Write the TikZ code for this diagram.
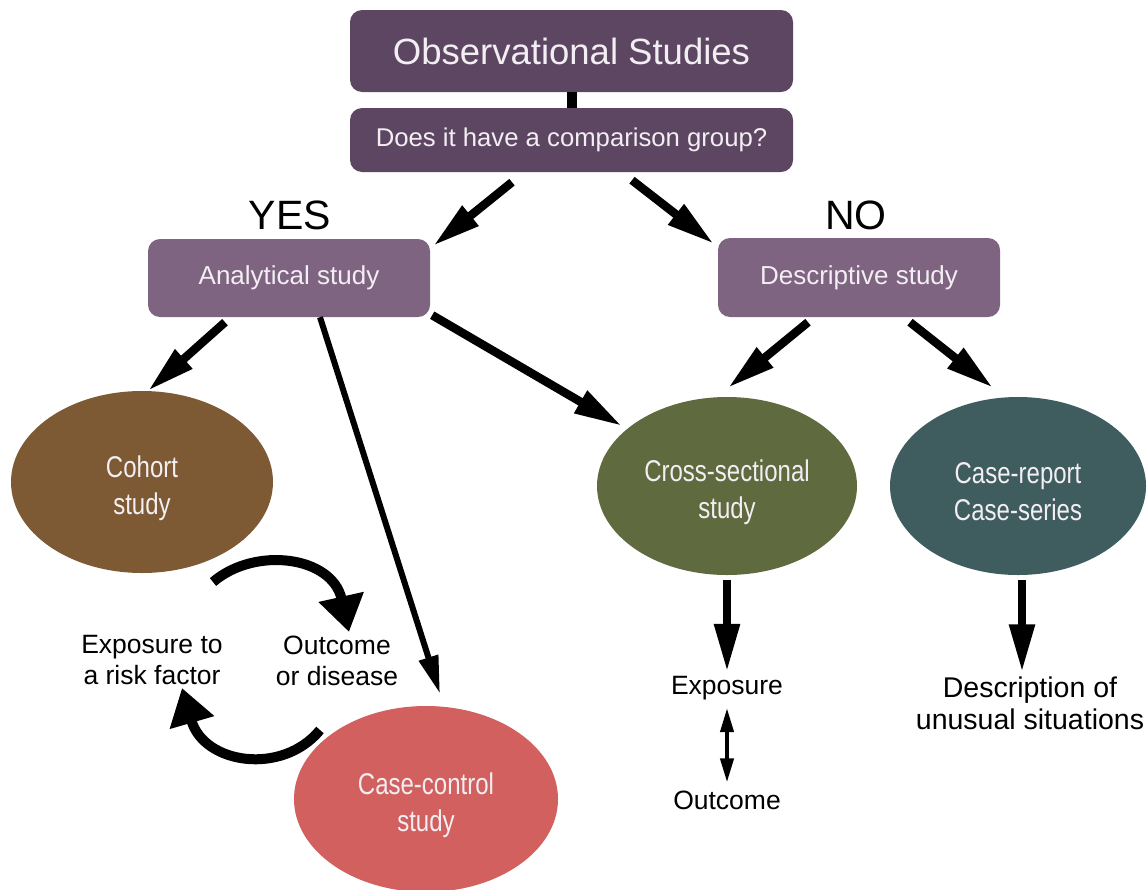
\documentclass[tikz,border=0pt]{standalone}
\usepackage{fontspec}
\setmainfont{Liberation Sans}
\newfontfamily\narrowfont[FakeStretch=0.8]{Liberation Sans}
\usetikzlibrary{shapes.geometric,arrows.meta,calc}
\definecolor{boxdark}{HTML}{5D4661}
\definecolor{boxlight}{HTML}{7E6481}
\definecolor{cohortc}{HTML}{7D5A33}
\definecolor{crossc}{HTML}{5F6A3E}
\definecolor{reportc}{HTML}{3F5D5F}
\definecolor{ccc}{HTML}{D1605F}
\definecolor{boxtext}{HTML}{F3EEF3}
\tikzset{
  darkbox/.style={rectangle, rounded corners=12pt, fill=boxdark, text=boxtext, inner sep=0pt},
  lightbox/.style={rectangle, rounded corners=12pt, fill=boxlight, text=boxtext, inner sep=0pt, minimum width=282pt, font=\fontsize{26}{30}\selectfont},
  oval/.style={ellipse, inner sep=0pt},
  ovaltext/.style={text=boxtext, align=center, inner sep=0pt, yshift=-6pt, font=\narrowfont\fontsize{30}{37}\selectfont},
  lab/.style={align=center, text=black, inner sep=0pt, font=\fontsize{26.5}{31}\selectfont},
  arr/.style={line width=8.5pt, -{Triangle[length=48pt,width=24pt]}},
  thinarr/.style={line width=6pt, -{Triangle[length=38pt,width=19pt]}},
  curvearr/.style={line width=10pt, -{Triangle[length=36pt,width=44pt]}},
}
\begin{document}
\begin{tikzpicture}[x=1pt,y=-1pt]
\useasboundingbox (0,0) rectangle (1147,889);
% boxes
\node[darkbox, minimum width=443pt, minimum height=82pt, font=\fontsize{36.5}{40}\selectfont] (title) at (571.5,51) {Observational Studies};
\node[darkbox, minimum width=443pt, minimum height=64pt, font=\fontsize{25.7}{30}\selectfont] (q) at (571.5,140) {Does it have a comparison group?};
\node[lightbox, minimum height=78pt] (ana) at (289,278) {Analytical study};
\node[lightbox, minimum height=79pt] (desc) at (859,277.5) {Descriptive study};
% YES / NO
\node[font=\fontsize{41}{44}\selectfont, inner sep=0pt] (yes) at (290,215) {YES};
\node[font=\fontsize{41}{44}\selectfont, inner sep=0pt] (no) at (856,215) {NO};
% ellipses
\node[oval, fill=cohortc, minimum width=262pt, minimum height=182pt,
  label={[ovaltext]center:{Cohort\\study}}] (cohort) at (142,482) {};
\node[oval, fill=crossc, minimum width=260pt, minimum height=178pt,
  label={[ovaltext]center:{Cross-sectional\\study}}] (cross) at (727,486) {};
\node[oval, fill=reportc, minimum width=256pt, minimum height=178pt,
  label={[ovaltext]center:{Case-report\\Case-series}}] (report) at (1018,486) {};
\node[oval, fill=ccc, minimum width=264pt, minimum height=186pt,
  label={[ovaltext]center:{Case-control\\study}}] (cc) at (426,799) {};
% labels
\node[lab] (expr) at (152,660) {Exposure to\\a risk factor};
\node[lab] (outd) at (337,661) {Outcome\\or disease};
\node[lab] (expo) at (727,688) {Exposure};
\node[lab] (outc) at (727,800) {Outcome};
\node[lab, font=\fontsize{28.5}{32}\selectfont] (dlab) at (1030,703) {Description of\\unusual situations};
% connectors
\draw[line width=10pt] (title.south) -- (q.north);
\draw[arr] ($(q.south)+(-59.5,10)$) -- ($(ana.north east)+(3,7)$);
\draw[arr] ($(q.south)+(60.5,8)$) -- ($(desc.north west)+(-4,6)$);
\draw[arr] ($(ana.south)+(-64,5)$) -- ($(cohort.north)+(6,0)$);
\draw[thinarr] ($(ana.south)+(31,0)$) -- ($(cc.north)+(14,-12)$);
\draw[arr] ($(ana.south east)+(2,-2)$) -- ($(cross.center)+(-105,-60)$);
\draw[arr] ($(desc.south)+(-51,5)$) -- ($(cross.north)+(1,-9)$);
\draw[arr] ($(desc.south)+(51,5)$) -- ($(report.north)+(-25,-9)$);
\draw[arr] ($(cross.south)+(0,5)$) -- ($(expo.north)+(0,-4)$);
\draw[arr] ($(report.south)+(4,5)$) -- ($(dlab.north)+(-8,-4)$);
\draw[line width=4pt, {Triangle[length=24pt,width=13pt]}-{Triangle[length=24pt,width=13pt]}] ($(expo.south)+(0,8)$) -- ($(outc.north)+(0,-8)$);
% curved arrows
\coordinate (c1s) at (213,582);
\coordinate (c1e) at (349,632);
\coordinate (c2s) at (320,730);
\coordinate (c2e) at (182,688);
\draw[curvearr] (c1s) .. controls (255,546) and (332,556) .. (c1e);
\draw[curvearr] (c2s) .. controls (282,776) and (204,764) .. (c2e);
\end{tikzpicture}
\end{document}
